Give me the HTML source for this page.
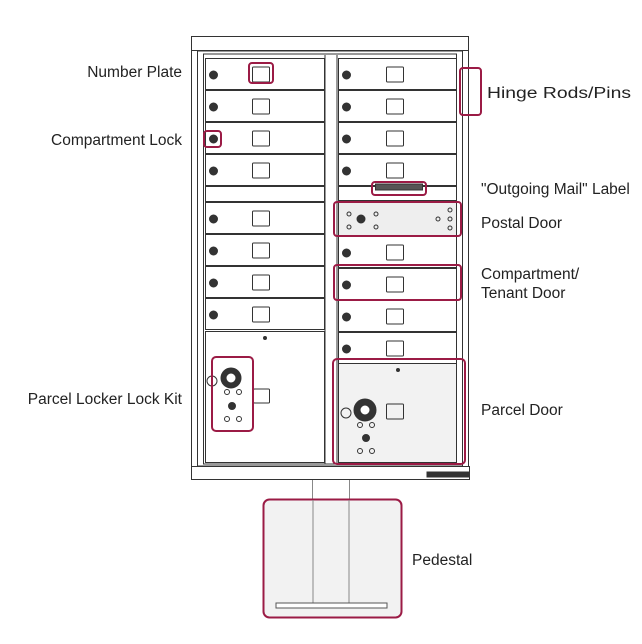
<!DOCTYPE html>
<html><head><style>
html,body{margin:0;padding:0;background:#fff;}
svg{display:block;}
text{font-family:"Liberation Sans",sans-serif;font-size:15.5px;fill:#222;}
</style></head><body>
<svg id="s" width="642" height="644" viewBox="0 0 642 644" xmlns="http://www.w3.org/2000/svg">
<g fill="none" stroke="#333" stroke-width="1">
<rect x="191.5" y="36.5" width="277" height="14" fill="#fff"/>
<rect x="191.5" y="50.5" width="277" height="416" fill="#fff"/>
<rect x="197.5" y="51" width="265" height="415"/>
<rect x="203.5" y="54" width="253" height="410"/>
<line x1="325" y1="55" x2="325" y2="464"/><line x1="337" y1="55" x2="337" y2="464"/>
<rect x="191.5" y="466.5" width="278" height="13" fill="#fff"/>
<line x1="312.5" y1="480" x2="312.5" y2="500" stroke="#888"/><line x1="349.5" y1="480" x2="349.5" y2="500" stroke="#888"/>
</g>
<g id="rows" stroke="#333" fill="none"></g>
<g stroke="#333" fill="none">
<circle cx="212" cy="381" r="5"/>
<circle cx="231" cy="378" r="10" fill="#333"/><circle cx="231" cy="378" r="5" fill="#fff"/>
<circle cx="227" cy="392" r="2.5"/><circle cx="239" cy="392" r="2.5"/>
<circle cx="232" cy="406" r="3.5" fill="#333"/>
<circle cx="227" cy="419" r="2.5"/><circle cx="239" cy="419" r="2.5"/>
<rect x="253.5" y="389" width="16" height="14" rx="1"/>
<circle cx="265" cy="338" r="1.5" fill="#333"/>
<circle cx="346" cy="413" r="5"/>
<circle cx="365" cy="410" r="11" fill="#333"/><circle cx="365" cy="410" r="5" fill="#fff"/>
<circle cx="360" cy="425" r="2.5"/><circle cx="372" cy="425" r="2.5"/>
<circle cx="366" cy="438" r="3.5" fill="#333"/>
<circle cx="360" cy="451" r="2.5"/><circle cx="372" cy="451" r="2.5"/>
<rect x="386.5" y="404" width="17" height="15" rx="1"/>
<circle cx="398" cy="370" r="1.5" fill="#333"/>
<rect x="427" y="472" width="42" height="5" fill="#333"/>
</g>
<rect x="263.5" y="499.5" width="138" height="118" rx="6" fill="#f2f2f2" stroke="#9b1b45" stroke-width="2"/>
<line x1="313" y1="500" x2="313" y2="603" stroke="#888"/><line x1="349" y1="500" x2="349" y2="603" stroke="#888"/>
<rect x="276" y="603" width="111" height="5" fill="#fff" stroke="#555"/>
<g fill="none" stroke="#9b1b45" stroke-width="2">
<rect x="249" y="63" width="24" height="20" rx="3"/>
<rect x="204" y="131" width="17" height="16" rx="3"/>
<rect x="460" y="68" width="21" height="47" rx="3"/>
<rect x="372" y="182" width="54" height="13" rx="3"/>
<rect x="334" y="202" width="127" height="34" rx="3"/>
<rect x="334" y="265" width="127" height="35" rx="3"/>
<rect x="212" y="357" width="41" height="74" rx="4"/>
<rect x="333" y="359" width="132" height="105" rx="4"/>
</g>
<g text-anchor="end">
<text x="182" y="77">Number Plate</text>
<text x="182" y="145">Compartment Lock</text>
<text x="182" y="404">Parcel Locker Lock Kit</text>
</g>
<text x="487" y="98" textLength="144" lengthAdjust="spacingAndGlyphs">Hinge Rods/Pins</text>
<text x="481" y="194">"Outgoing Mail" Label</text>
<text x="481" y="228">Postal Door</text>
<text x="481" y="279">Compartment/</text>
<text x="481" y="298">Tenant Door</text>
<text x="481" y="415">Parcel Door</text>
<text x="412" y="565">Pedestal</text>
</svg>
<script>
var g=document.getElementById('rows'),h='';
function row(x,y,w,hh,lock,plate){h+='<rect x="'+x+'" y="'+y+'" width="'+w+'" height="'+hh+'"/>';
if(lock){h+='<circle cx="'+(x+8)+'" cy="'+(y+hh/2+1)+'" r="4" fill="#333"/>';}
if(plate){h+='<rect x="'+plate+'" y="'+(y+hh/2-7)+'" width="17" height="15" rx="1"/>';}}
var L=[[58,31],[90,31],[122,31],[154,31]];
L.forEach(function(r){row(205.5,r[0]+.5,119,r[1],1,252.5);row(338.5,r[0]+.5,118,r[1],1,386.5);});
row(205.5,186.5,119,15,0,0);
[202,234,266,298].forEach(function(y){row(205.5,y+.5,119,31,1,252.5);});
row(205.5,331.5,119,131,0,0);
row(338.5,186.5,118,14,0,0);
h+='<rect x="338.5" y="202.5" width="118" height="33" fill="#eee"/>';
h+='<circle cx="361" cy="219" r="4" fill="#333"/>';
[[349,214],[349,227],[376,214],[376,227],[438,219],[450,210],[450,219],[450,228]].forEach(function(c){h+='<circle cx="'+c[0]+'" cy="'+c[1]+'" r="2"/>';});
[236,268,300,332].forEach(function(y){row(338.5,y+.5,118,31,1,386.5);});
h+='<rect x="338.5" y="363.5" width="118" height="99" fill="#f2f2f2"/>';
h+='<rect x="375.5" y="184" width="47" height="6" fill="#555"/>';
g.innerHTML=h;
</script>
</body></html>
